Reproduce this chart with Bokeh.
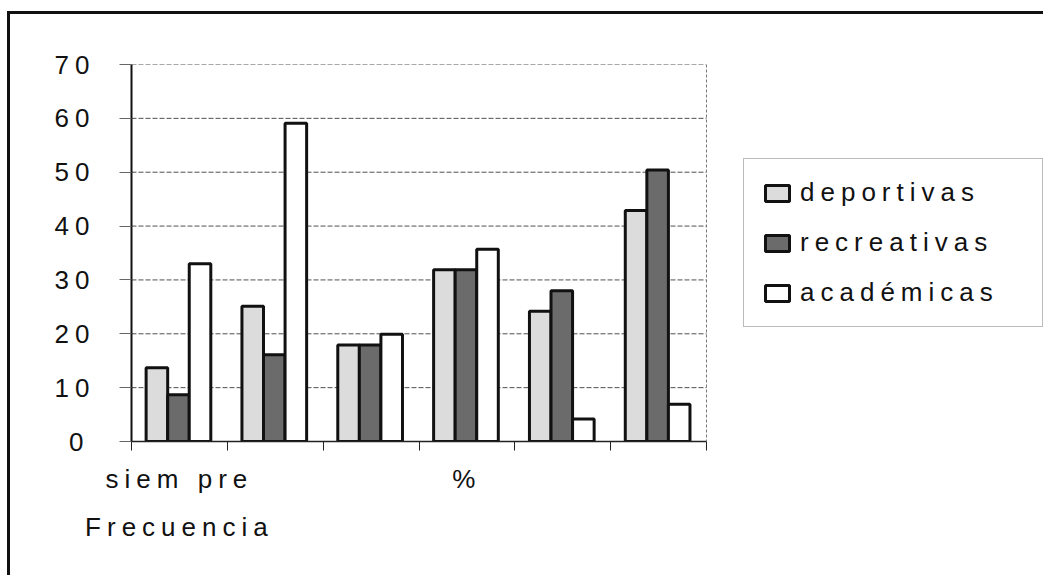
from bokeh.plotting import figure
from bokeh.models import (Range1d, FixedTicker, LinearAxis, Legend, LegendItem,
                          ColumnDataSource, Span)
from bokeh.embed import file_html
from bokeh.resources import INLINE

# ---- data ----
categories = ["siem pre", "", "", "%", "", ""]
categories_line2 = ["Frecuencia", "", "", "", "", ""]
series_names = ["deportivas", "recreativas", "académicas"]
deportivas = [13.7, 25.1, 17.9, 31.9, 24.2, 42.9]
recreativas = [8.7, 16.1, 17.9, 31.9, 28.0, 50.4]
academicas = [33.0, 59.1, 19.9, 35.7, 4.2, 6.9]
y_ticks = [0, 10, 20, 30, 40, 50, 60, 70]

FONT = "Liberation Sans"
FS = "26px"
LETTER_SP = 6  # px of CSS letter-spacing
N = len(categories)
PLOT_PX = 575          # width of the bar area in px
FRAME_PX = 915         # frame width in px (bar area + legend room)
X_END = N * FRAME_PX / PLOT_PX
PX_PER_UNIT = PLOT_PX / N

p = figure(width=1036, height=564, output_backend="svg", toolbar_location=None,
           x_range=Range1d(0, X_END), y_range=Range1d(0, 70),
           min_border_left=121, min_border_top=50, min_border_right=0,
           min_border_bottom=137, x_axis_type=None, y_axis_type=None)
p.styles = {"margin-top": "11px", "margin-left": "7px",
            "border-top": "3px solid #111111", "border-left": "3px solid #111111",
            "letter-spacing": f"{LETTER_SP}px"}
p.background_fill_color = "white"
p.border_fill_color = "white"
p.outline_line_color = None
p.xgrid.visible = False
p.ygrid.visible = False

# horizontal grid lines across the bar area only
grid_y = [t for t in y_ticks if t > 0]
p.segment(x0=[0] * len(grid_y), x1=[N] * len(grid_y), y0=grid_y, y1=grid_y,
          line_color="#505050", line_dash="5 2", line_width=1)
# right edge of plot area
p.add_layout(Span(location=N, dimension="height", line_color="#777777",
                  line_dash="3 2", line_width=1))

# y axis
yax = LinearAxis(ticker=FixedTicker(ticks=y_ticks))
yax.axis_line_color = "#111111"
yax.axis_line_width = 2
yax.major_tick_out = 12
yax.major_tick_in = 0
yax.major_tick_line_color = "#666666"
yax.minor_tick_line_color = None
yax.major_label_standoff = 36
yax.major_label_text_font = FONT
yax.major_label_text_font_size = FS
yax.major_label_text_color = "#111111"
p.add_layout(yax, "left")

centers = [i + 0.5 for i in range(N)]
bounds = [float(i) for i in range(N + 1)]


def label_ticks(labels):
    # compensate the right shift that CSS letter-spacing gives centred labels
    pos, over = [], {}
    for c, lab in zip(centers, labels):
        if lab:
            t = round(c - len(lab) * LETTER_SP / 2 / PX_PER_UNIT, 4)
            pos.append(t)
            over[t] = lab
    return pos, over


# x axis (main) with boundary ticks
t1, o1 = label_ticks(categories)
xax = LinearAxis(ticker=FixedTicker(ticks=t1, minor_ticks=bounds), bounds=(0, N))
xax.major_label_overrides = o1
xax.axis_line_color = "#222222"
xax.axis_line_width = 1.5
xax.major_tick_out = 0
xax.major_tick_in = 0
xax.major_tick_line_color = None
xax.minor_tick_out = 9
xax.minor_tick_in = 0
xax.minor_tick_line_color = "#222222"
xax.minor_tick_line_width = 1
xax.major_label_standoff = 13
xax.major_label_text_font = FONT
xax.major_label_text_font_size = FS
xax.major_label_text_color = "#111111"
p.add_layout(xax, "below")

# second line of category labels
t2, o2 = label_ticks(categories_line2)
xax2 = LinearAxis(ticker=FixedTicker(ticks=t2, minor_ticks=[]))
xax2.major_label_overrides = o2
xax2.axis_line_color = None
xax2.major_tick_line_color = None
xax2.minor_tick_line_color = None
xax2.major_label_standoff = 9
xax2.major_label_text_font = FONT
xax2.major_label_text_font_size = FS
xax2.major_label_text_color = "#111111"
p.add_layout(xax2, "below")

# bars
offsets = [-0.235, -0.01, 0.215]
fills = ["#dcdcdc", "#6b6b6b", "#ffffff"]
values = [deportivas, recreativas, academicas]
renderers = []
for name, vals, off, col in zip(series_names, values, offsets, fills):
    src = ColumnDataSource(dict(x=[c + off for c in centers], top=vals))
    r = p.vbar(x="x", top="top", width=0.225, bottom=0, source=src,
               fill_color=col, line_color="#111111", line_width=3)
    renderers.append(r)

legend = Legend(items=[LegendItem(label=n, renderers=[r]) for n, r in zip(series_names, renderers)],
                location=(612, 114))
legend.label_text_font = FONT
legend.label_text_font_size = FS
legend.label_text_color = "#111111"
legend.glyph_width = 30
legend.glyph_height = 20
legend.label_standoff = 8
legend.label_height = 29
legend.label_width = 224
legend.spacing = 19
legend.padding = 18
legend.margin = 0
legend.border_line_color = "#777777"
legend.border_line_width = 1.5
legend.background_fill_alpha = 1
p.add_layout(legend, "center")

open("out.html", "w").write(file_html(p, INLINE))
